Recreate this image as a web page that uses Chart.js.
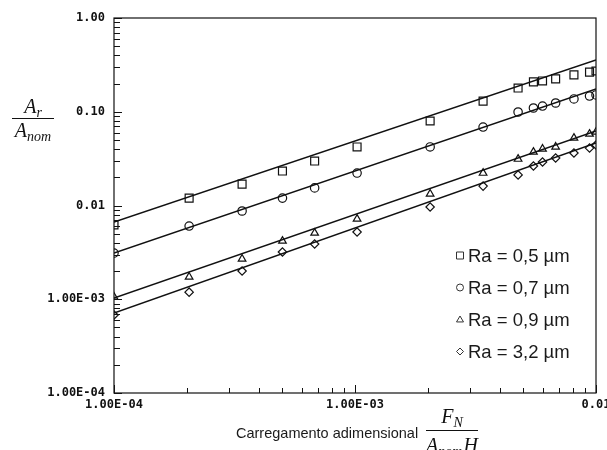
<!DOCTYPE html>
<html><head><meta charset="utf-8">
<script src="https://cdn.jsdelivr.net/npm/chart.js@4"></script>
<style>html,body{margin:0;padding:0;background:#fff}#wrap{width:607px;height:450px}</style>
</head><body><div id="wrap"><canvas id="c" width="607" height="450"></canvas></div>
<script>
// ---- data ----
const loadX = [1.0e-4, 2.05e-4, 3.4e-4, 5.0e-4, 6.8e-4, 1.02e-3, 2.05e-3, 3.4e-3, 4.75e-3, 5.5e-3, 6.0e-3, 6.8e-3, 8.1e-3, 9.4e-3, 1.0e-2];
const ra05 = [6.2e-3, 0.0120, 0.0169, 0.0233, 0.0298, 0.0421, 0.0797, 0.130, 0.179, 0.208, 0.213, 0.224, 0.247, 0.265, 0.272];
const ra07 = [3.11e-3, 6.04e-3, 8.74e-3, 0.0120, 0.0154, 0.0222, 0.0421, 0.0687, 0.0994, 0.1096, 0.115, 0.124, 0.137, 0.147, 0.151];
const ra09 = [1.06e-3, 1.73e-3, 2.69e-3, 4.18e-3, 5.09e-3, 7.18e-3, 0.0133, 0.0222, 0.0313, 0.0372, 0.0401, 0.0421, 0.0525, 0.0579, 0.0608];
const ra32 = [6.79e-4, 1.19e-3, 2.0e-3, 3.19e-3, 3.88e-3, 5.21e-3, 9.64e-3, 0.0161, 0.0212, 0.0264, 0.0291, 0.0321, 0.0363, 0.0410, 0.0442];
const fitX = [1.0e-4, 1.0e-2];
const fit05 = [6.67e-3, 0.356];
const fit07 = [3.11e-3, 0.175];
const fit09 = [1.03e-3, 0.0623];
const fit32 = [7.13e-4, 0.0464];
const seriesLabels = ['Ra = 0,5 µm', 'Ra = 0,7 µm', 'Ra = 0,9 µm', 'Ra = 3,2 µm'];
const seriesStyles = ['rect', 'circle', 'triangle', 'rectRot'];
const xTickValues = [1e-4, 1e-3, 1e-2];
const xTickLabels = ['1.00E-04', '1.00E-03', '0.01'];
const yTickValues = [1e-4, 1e-3, 1e-2, 1e-1, 1];
const yTickLabels = ['1.00E-04', '1.00E-03', '0.01', '0.10', '1.00'];

const pts = (xs, ys) => xs.map((x, i) => ({x: x, y: ys[i]}));
const INK = '#111';
const seriesVals = [ra05, ra07, ra09, ra32];
const fitVals = [fit05, fit07, fit09, fit32];
const markerR = [5.6, 4.2, 4.4, 4.2];

const datasets = [];
fitVals.forEach((f, i) => datasets.push({
  label: 'fit ' + seriesLabels[i], data: pts(fitX, f), showLine: true,
  pointRadius: 0, borderColor: INK, borderWidth: 1.5, fill: false, order: 2
}));
seriesVals.forEach((v, i) => datasets.push({
  label: seriesLabels[i], data: pts(loadX, v), showLine: false,
  pointStyle: seriesStyles[i], pointRadius: markerR[i], pointBorderWidth: 1.2,
  pointBorderColor: INK, pointBackgroundColor: 'rgba(0,0,0,0)', order: 1
}));

function mark(ctx, style, x, y, r) {
  ctx.beginPath();
  if (style === 'rect') { const s = r; ctx.rect(x - s / 2, y - s / 2, s, s); }
  else if (style === 'circle') { ctx.arc(x, y, r / 2, 0, Math.PI * 2); }
  else if (style === 'triangle') { const h = r / 2; ctx.moveTo(x, y - h); ctx.lineTo(x + h * 1.0, y + h * 0.7); ctx.lineTo(x - h * 1.0, y + h * 0.7); ctx.closePath(); }
  else { const h = r / 2; ctx.moveTo(x, y - h); ctx.lineTo(x + h, y); ctx.lineTo(x, y + h); ctx.lineTo(x - h, y); ctx.closePath(); }
  ctx.stroke();
}

function fracText(ctx, parts, cx, baseline) {
  let w = 0;
  parts.forEach(p => { ctx.font = p.sub ? 'italic 14px "Liberation Serif"' : 'italic 20px "Liberation Serif"'; w += ctx.measureText(p.t).width + (p.gap || 0); });
  let x = cx - w / 2;
  parts.forEach(p => {
    ctx.font = p.sub ? 'italic 14px "Liberation Serif"' : 'italic 20px "Liberation Serif"';
    ctx.fillText(p.t, x, baseline + (p.sub ? 4 : 0));
    x += ctx.measureText(p.t).width + (p.gap || 0);
  });
  return w;
}

const decor = {
  id: 'decor',
  afterDraw(chart) {
    const ctx = chart.ctx, a = chart.chartArea, xs = chart.scales.x, ys = chart.scales.y;
    ctx.save();
    ctx.strokeStyle = INK; ctx.lineWidth = 1.2;
    ctx.strokeRect(a.left, a.top, a.right - a.left, a.bottom - a.top);
    ctx.lineWidth = 1;
    for (let d = -4; d <= 0; d++) for (let m = 1; m <= 9; m++) {
      const v = m * Math.pow(10, d); if (v > 1.0001) break;
      const py = Math.round(ys.getPixelForValue(v)) + 0.5;
      const len = m === 1 ? 8 : 6;
      ctx.beginPath(); ctx.moveTo(a.left, py); ctx.lineTo(a.left + len, py); ctx.stroke();
    }
    for (let d = -4; d <= -2; d++) for (let m = 1; m <= 9; m++) {
      const v = m * Math.pow(10, d); if (v > 0.01001) break;
      const px = Math.round(xs.getPixelForValue(v)) + 0.5;
      const len = m === 1 ? 8 : 5;
      ctx.beginPath(); ctx.moveTo(px, a.bottom); ctx.lineTo(px, a.bottom - len); ctx.stroke();
    }
    // legend
    const lx = 460, tx = 468, rows = [255.5, 287.5, 319.5, 351.5];
    ctx.fillStyle = '#1a1a1a'; ctx.textAlign = 'left'; ctx.textBaseline = 'alphabetic';
    seriesLabels.forEach((lab, i) => {
      ctx.lineWidth = 1; ctx.strokeStyle = '#333';
      mark(ctx, seriesStyles[i], lx, rows[i], 7);
      ctx.font = '18.5px "Liberation Sans", Arial, sans-serif';
      ctx.fillText(lab, tx, rows[i] + 6.6);
    });
    // x title
    ctx.fillStyle = '#1a1a1a';
    ctx.font = '14.5px "Liberation Sans", Arial, sans-serif';
    ctx.fillText('Carregamento adimensional', 236, 438);
    ctx.fillStyle = '#111';
    fracText(ctx, [{t: 'F'}, {t: 'N', sub: true}], 452, 423);
    ctx.strokeStyle = '#111'; ctx.lineWidth = 1.2;
    ctx.beginPath(); ctx.moveTo(426, 430.5); ctx.lineTo(478, 430.5); ctx.stroke();
    fracText(ctx, [{t: 'A'}, {t: 'nom', sub: true, gap: 1}, {t: 'H'}], 452, 452);
    // y title
    fracText(ctx, [{t: 'A'}, {t: 'r', sub: true}], 33, 113);
    ctx.beginPath(); ctx.moveTo(12, 118.5); ctx.lineTo(54, 118.5); ctx.stroke();
    fracText(ctx, [{t: 'A'}, {t: 'nom', sub: true}], 33, 137);
    ctx.restore();
  }
};

new Chart(document.getElementById('c'), {
  type: 'scatter',
  data: {datasets: datasets},
  options: {
    responsive: false, animation: false, devicePixelRatio: 1,
    layout: {padding: {top: 18, right: 11, left: 0, bottom: 0}},
    plugins: {legend: {display: false}, tooltip: {enabled: false}},
    scales: {
      x: {
        type: 'logarithmic', min: 1e-4, max: 1e-2,
        grid: {display: false, drawTicks: false}, border: {display: false},
        afterBuildTicks: s => { s.ticks = xTickValues.map(v => ({value: v})); },
        afterFit: s => { s.height = 57; s.paddingLeft = 0; s.paddingRight = 0; },
        ticks: {
          padding: 5, maxRotation: 0, autoSkip: false, color: '#111',
          font: {family: '"DejaVu Sans Mono", monospace', size: 12, weight: 'bold'},
          callback: v => { const i = xTickValues.findIndex(t => Math.abs(t - v) / t < 1e-6); return i >= 0 ? xTickLabels[i] : ''; }
        }
      },
      y: {
        type: 'logarithmic', min: 1e-4, max: 1,
        grid: {display: false, drawTicks: false}, border: {display: false},
        afterBuildTicks: s => { s.ticks = yTickValues.map(v => ({value: v})); },
        afterFit: s => { s.width = 114; },
        ticks: {
          padding: 9, autoSkip: false, color: '#111',
          font: {family: '"DejaVu Sans Mono", monospace', size: 12, weight: 'bold'},
          callback: v => { const i = yTickValues.findIndex(t => Math.abs(t - v) / t < 1e-6); return i >= 0 ? yTickLabels[i] : ''; }
        }
      }
    }
  },
  plugins: [decor]
});
</script>
</body></html>
